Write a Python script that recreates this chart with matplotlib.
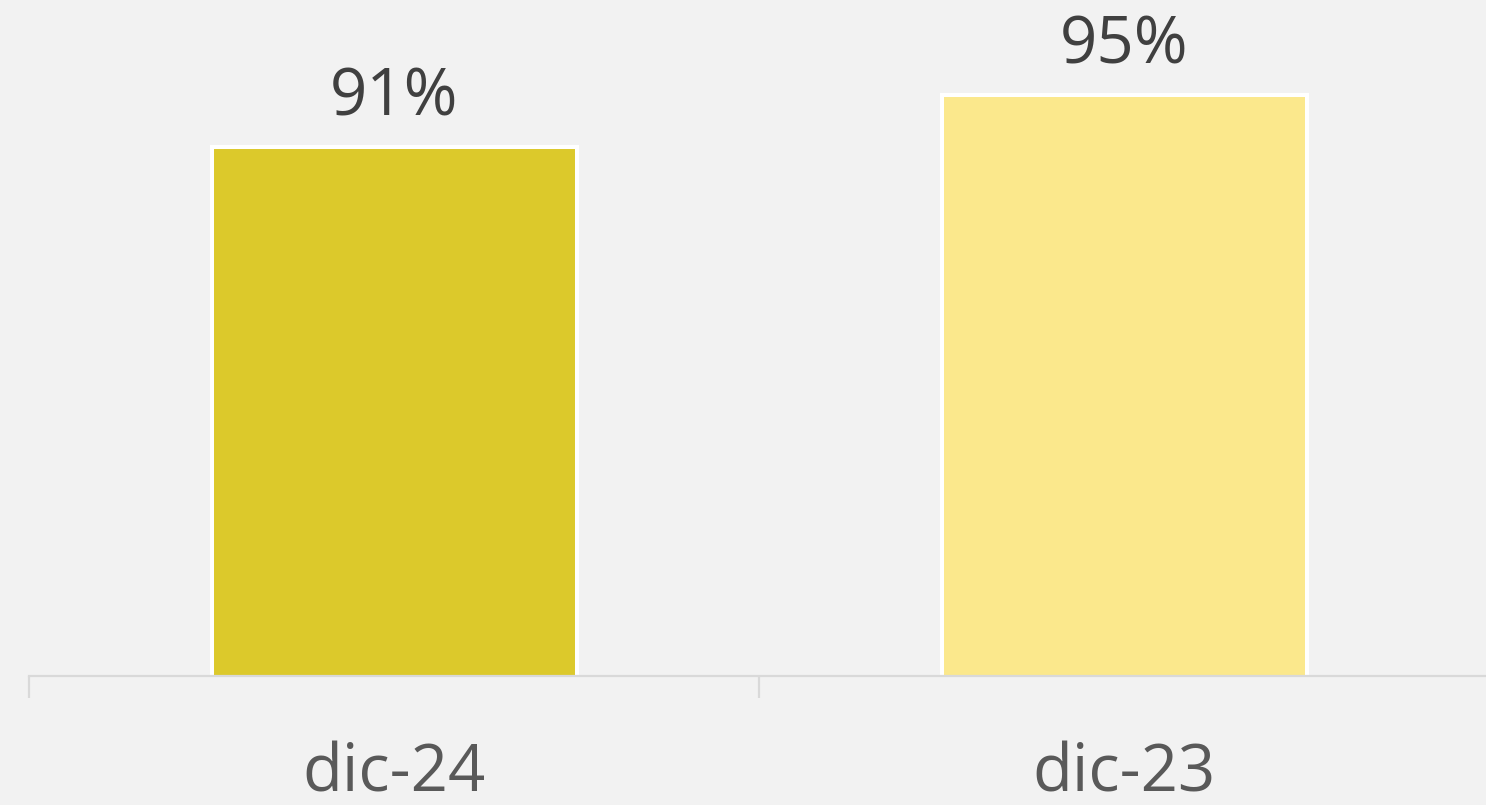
import matplotlib.pyplot as plt
from matplotlib.ticker import FixedLocator

# data
categories = ['dic-24', 'dic-23']
values = [91, 95]
colors = ['#dcc92b', '#fbe88c']

plt.rcParams['font.family'] = ['Open Sans', 'DejaVu Sans']

fig = plt.figure(figsize=(14.86, 8.05), dpi=100, facecolor='#f2f2f2')
# axes spans category bands; right edge runs just past the figure
ax = fig.add_axes([29 / 1486, 129 / 805, 1460 / 1486, 676 / 805])
ax.set_facecolor('#f2f2f2')

x = range(len(categories))
bars = ax.bar(x, values, width=0.5, color=colors, edgecolor='white', linewidth=2.9, zorder=2)

ax.set_xlim(-0.5, len(categories) - 0.5)
ax.set_ylim(50.3, 102.3)

# value labels above bars
for b, v in zip(bars, values):
    ax.annotate(f'{v}%', (b.get_x() + b.get_width() / 2, v), xytext=(0, 11),
                textcoords='offset points', ha='center', va='bottom',
                fontsize=47, color='#404040')

for s in ['left', 'right', 'top']:
    ax.spines[s].set_visible(False)
ax.spines['bottom'].set_color('#d9d9d9')
ax.spines['bottom'].set_linewidth(1.6)
ax.spines['bottom'].set_zorder(3)

ax.set_yticks([])
ax.set_xticks(list(x))
ax.set_xticklabels(categories, fontsize=47, color='#595959')
ax.tick_params(axis='x', which='major', length=0, pad=47)
ax.xaxis.set_minor_locator(FixedLocator([i - 0.5 for i in range(len(categories) + 1)]))
ax.tick_params(axis='x', which='minor', length=16, width=1.6, color='#d9d9d9')

fig.savefig('out.png', dpi=100, facecolor=fig.get_facecolor())
